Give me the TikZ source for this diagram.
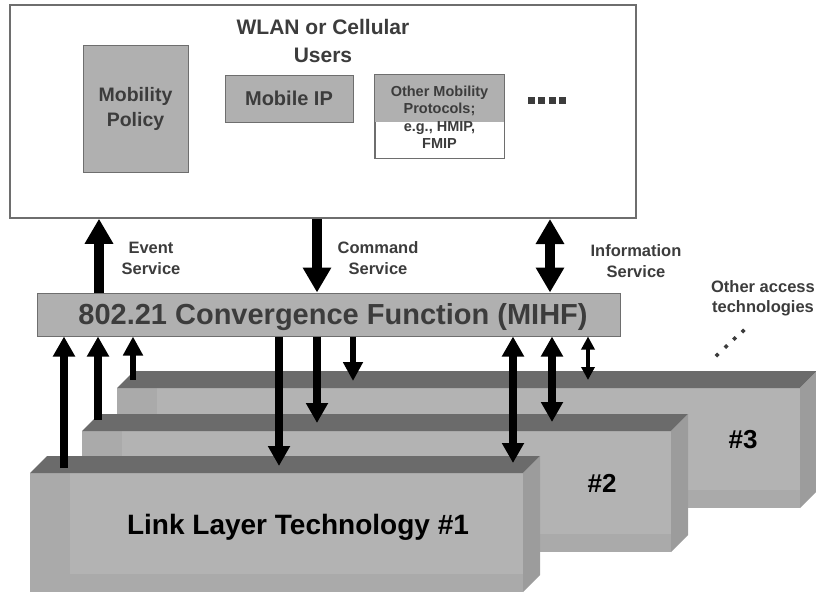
\documentclass[tikz,border=0pt]{standalone}
\usepackage{fontspec}
\setmainfont{Liberation Sans}
\usetikzlibrary{arrows.meta}

\definecolor{txtgray}{HTML}{3C3C3C}
\definecolor{framegray}{HTML}{6E6E6E}
\definecolor{boxgray}{HTML}{B0B0B0}
\definecolor{facetop}{HTML}{6B6B6B}
\definecolor{facefront}{HTML}{B3B3B3}
\definecolor{faceband}{HTML}{AAAAAA}
\definecolor{faceside}{HTML}{9C9C9C}

\tikzset{
    lbl/.style={text=txtgray, font=\bfseries\fontsize{16.5}{21}\selectfont, align=center, inner sep=0pt},
    inbox/.style={draw=framegray, fill=boxgray, line width=1pt, inner sep=0pt, text=txtgray, align=center},
    topar/.style={line width=10pt, -{Triangle[length=25pt,width=27pt]}},
    topdbl/.style={line width=10pt, {Triangle[length=25pt,width=27pt]}-{Triangle[length=25pt,width=27pt]}},
    arr/.style={line width=8pt, -{Triangle[length=20pt,width=21pt]}},
    sarr/.style={line width=6.5pt, -{Triangle[length=19pt,width=19pt]}},
    dbl/.style={line width=8pt, {Triangle[length=20pt,width=21pt]}-{Triangle[length=20pt,width=21pt]}},
    tdbl/.style={line width=4pt, {Triangle[length=13pt,width=13pt]}-{Triangle[length=13pt,width=13pt]}}
}

\begin{document}
\begin{tikzpicture}[x=1pt,y=-1pt]
    \useasboundingbox (0,0) rectangle (816,592);

    % link layer technologies, back to front
    \foreach \xa/\ya/\xb/\yb in {117/388/800/508, 82/431/671/552, 30/473/523/592}
    {
        \fill[facefront] (\xa,\ya) rectangle (\xb,\yb);
        \fill[faceband] (\xa,\ya) rectangle (\xa+40,\yb);
        \fill[faceband] (\xa,\yb-18) rectangle (\xb,\yb);
        \fill[facetop] (\xa,\ya) -- (\xa+17,\ya-17) -- (\xb+17,\ya-17) -- (\xb,\ya) -- cycle;
        \fill[faceside] (\xb,\ya) -- (\xb+17,\ya-17) -- (\xb+17,\yb-17) -- (\xb,\yb) -- cycle;
    }
    \node[font=\bfseries\fontsize{28}{30}\selectfont, inner sep=0pt] (ll1) at (298,527) {Link Layer Technology \#1};
    \node[font=\bfseries\fontsize{26}{28}\selectfont, inner sep=0pt] (ll2) at (602,483) {\#2};
    \node[font=\bfseries\fontsize{26}{28}\selectfont, inner sep=0pt] (ll3) at (743,440) {\#3};

    % users
    \node[draw=framegray, line width=1.5pt, fill=white, minimum width=626pt, minimum height=213pt] (users) at (323,111.5) {};
    \node[lbl, font=\bfseries\fontsize{21}{28}\selectfont] (title) at (323,41) {WLAN or Cellular\\Users};
    \node[inbox, minimum width=105pt, minimum height=127pt, font=\bfseries\fontsize{19.5}{25}\selectfont] (policy) at (135.5,108.5) {Mobility\\Policy};
    \node[inbox, minimum width=128pt, minimum height=47pt, font=\bfseries\fontsize{20}{24}\selectfont] (mip) at (289,98.5) {Mobile IP};
    \node[draw=framegray, line width=1pt, fill=white, minimum width=129pt, minimum height=83pt] (other) at (439.5,116.5) {};
    \fill[boxgray] (other.north west) rectangle ([yshift=-47pt]other.north east);
    \draw[framegray, line width=1pt] (other.north west) rectangle (other.south east);
    \node[lbl, font=\bfseries\fontsize{14.5}{17.5}\selectfont] (othertxt) at (439.5,117) {Other Mobility\\Protocols;\\e.g., HMIP,\\FMIP};
    \foreach \x in {531,541.5,552,562.5}
        \fill[txtgray] (\x-3.5,96.5) rectangle (\x+3.5,103.5);

    % MIHF
    \node[draw=framegray, line width=1pt, fill=boxgray, minimum width=583pt, minimum height=43pt, inner sep=0pt] (mihf) at (328.5,314.5) {};
    \node[text=txtgray, font=\bfseries\fontsize{29}{30}\selectfont, inner sep=0pt] (mihftxt) at (333,317) {802.21 Convergence Function (MIHF)};

    % service labels
    \node[lbl] (evlbl) at (151,258.5) {Event\\Service};
    \node[lbl] (cmdlbl) at (378,258.5) {Command\\Service};
    \node[lbl] (inflbl) at (636,261.5) {Information\\Service};
    \node[lbl, font=\bfseries\fontsize{16.5}{20}\selectfont, anchor=east] (acclbl) at (815,298) {Other access\\technologies};
    \foreach \x/\y in {717/355, 726/346.5, 734.5/338.5, 743/331}
        \fill[txtgray] (\x,\y-2.5) -- (\x+2.5,\y) -- (\x,\y+2.5) -- (\x-2.5,\y) -- cycle;

    % services between users and MIHF
    \coordinate (ev) at (99,293);
    \coordinate (cmd) at (317,219);
    \coordinate (info) at (550,219);
    \draw[topar] (ev) -- (ev |- users.south);
    \draw[topar] (cmd) -- (cmd |- mihf.north);
    \draw[topdbl] (info) -- (info |- mihf.north);

    % MIHF to link layers
    \coordinate (up1) at (64,468);
    \coordinate (up2) at (98,420);
    \coordinate (up3) at (133,380);
    \coordinate (dn1) at (279,466);
    \coordinate (dn2) at (317,423);
    \coordinate (dn3) at (353,381);
    \coordinate (db1) at (513,463);
    \coordinate (db2) at (552,422);
    \coordinate (db3) at (588,380);
    \draw[arr] (up1) -- (up1 |- mihf.south);
    \draw[arr] (up2) -- (up2 |- mihf.south);
    \draw[sarr] (up3) -- (up3 |- mihf.south);
    \draw[arr] (dn1 |- mihf.south) -- (dn1);
    \draw[arr] (dn2 |- mihf.south) -- (dn2);
    \draw[sarr] (dn3 |- mihf.south) -- (dn3);
    \draw[dbl] (db1 |- mihf.south) -- (db1);
    \draw[dbl] (db2 |- mihf.south) -- (db2);
    \draw[tdbl] (db3 |- mihf.south) -- (db3);
\end{tikzpicture}
\end{document}
